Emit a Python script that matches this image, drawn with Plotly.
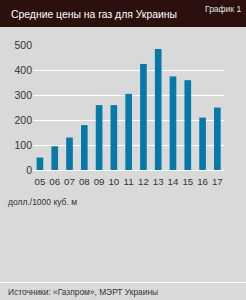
import plotly.graph_objects as go

years = ["05", "06", "07", "08", "09", "10", "11", "12", "13", "14", "15", "16", "17"]
prices = [50, 95, 130, 180, 260, 260, 305, 425, 485, 375, 360, 210, 250]
y_ticks = [0, 100, 200, 300, 400, 500]

title_text = "Средние цены на газ для Украины"
badge_text = "График 1"
unit_text = "долл./1000 куб. м"
source_text = "Источники: «Газпром», МЭРТ Украины"

W, H = 246, 300
L, R, T, B = 33, 224, 45, 170  # plot area in pixels
pw, ph = R - L, B - T


def px(x):
    return (x - L) / pw


def py(y):
    return (B - y) / ph


FONT = "Liberation Sans Narrow, Arial Narrow, Liberation Sans, Arial, sans-serif"

fig = go.Figure(
    go.Bar(
        x=list(range(len(years))),
        y=prices,
        marker=dict(color="#0679a8", line=dict(width=0)),
        width=0.45,
    )
)

fig.update_layout(
    width=W,
    height=H,
    margin=dict(l=L, r=W - R, t=T, b=H - B, pad=0),
    paper_bgcolor="#d9d9d9",
    plot_bgcolor="#d9d9d9",
    showlegend=False,
    font=dict(family=FONT, color="#333333", size=10),
    bargap=0.5,
)

fig.update_xaxes(
    range=[-0.47, 12.45],
    tickmode="array",
    tickvals=list(range(len(years))),
    ticktext=years,
    showgrid=False,
    zeroline=False,
    showline=False,
    ticks="",
    ticklabelstandoff=4,
    tickfont=dict(size=9.7, color="#333333", family=FONT),
    fixedrange=True,
)
fig.update_yaxes(
    range=[0, 501],
    tickmode="array",
    tickvals=y_ticks,
    showgrid=True,
    gridcolor="#ffffff",
    gridwidth=1,
    zeroline=True,
    zerolinecolor="#ffffff",
    zerolinewidth=1,
    showline=False,
    ticks="",
    tickfont=dict(size=10.5, color="#333333", family=FONT),
    fixedrange=True,
)

shapes = [
    dict(type="rect", xref="paper", yref="paper",
         x0=px(0), x1=px(W), y0=py(27), y1=py(0),
         fillcolor="#2b100d", line=dict(width=0), layer="above"),
    dict(type="line", xref="paper", yref="paper",
         x0=px(0), x1=px(W), y0=py(282.5), y1=py(282.5),
         line=dict(color="#ffffff", width=1.2)),
]
fig.update_layout(shapes=shapes)

annotations = [
    dict(text=title_text, xref="paper", yref="paper", x=px(9), y=py(14),
         xanchor="left", yanchor="middle", showarrow=False,
         font=dict(size=10.4, color="#ffffff", family=FONT)),
    dict(text=badge_text, xref="paper", yref="paper", x=px(243), y=py(9),
         xanchor="right", yanchor="middle", showarrow=False,
         font=dict(size=8.5, color="#e0e0e0", family=FONT)),
    dict(text=unit_text, xref="paper", yref="paper", x=px(6), y=py(202),
         xanchor="left", yanchor="middle", showarrow=False,
         font=dict(size=8.5, color="#333333", family=FONT)),
    dict(text=source_text, xref="paper", yref="paper", x=px(6), y=py(292),
         xanchor="left", yanchor="middle", showarrow=False,
         font=dict(size=8.4, color="#333333", family=FONT)),
]
fig.update_layout(annotations=annotations)

fig.write_html("out.html", config={"displayModeBar": False})
